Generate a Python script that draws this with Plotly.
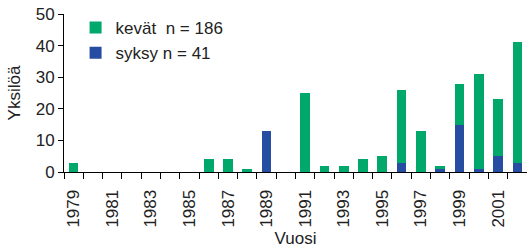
import plotly.graph_objects as go

years = list(range(1979, 2003))
kevat = [3, 0, 0, 0, 0, 0, 0, 4, 4, 1, 0, 0, 25, 2, 2, 4, 5, 23, 13, 1, 13, 30, 18, 38]
syksy = [0, 0, 0, 0, 0, 0, 0, 0, 0, 0, 13, 0, 0, 0, 0, 0, 0, 3, 0, 1, 15, 1, 5, 3]
tick_years = list(range(1979, 2002, 2))

green = "#00A86B"
blue = "#264DA1"
font = "Liberation Sans, Arial, sans-serif"

fig = go.Figure()
fig.add_trace(go.Bar(x=years, y=syksy, name="syksy n = 41", marker=dict(color=blue, line=dict(width=0))))
fig.add_trace(go.Bar(x=years, y=kevat, name="kevät\u00a0\u00a0n = 186", marker=dict(color=green, line=dict(width=0))))

fig.update_layout(
    width=527, height=252,
    margin=dict(l=64, r=0, t=14, b=80, autoexpand=False),
    barmode="stack", bargap=0.5,
    plot_bgcolor="white", paper_bgcolor="white",
    font=dict(family=font, size=17, color="#222222"),
    showlegend=True,
    legend=dict(x=0.025, y=1.025, xanchor="left", yanchor="top", traceorder="reversed",
                bgcolor="rgba(0,0,0,0)", font=dict(size=17), itemwidth=30,
                tracegroupgap=0),
)
fig.update_xaxes(
    range=[1978.5, 2002.5],
    tickvals=tick_years, ticktext=[str(y) for y in tick_years],
    tickangle=-90, ticks="outside", ticklen=10, tickcolor="rgba(0,0,0,0)",
    showgrid=False, zeroline=False,
    showline=True, linecolor="black", linewidth=1,
    tickfont=dict(size=17), ticklabeloverflow="allow",
    minor=dict(tick0=1978.5, dtick=1, ticks="outside", ticklen=6, tickcolor="black", tickwidth=1, showgrid=False),
    title=dict(text="Vuosi", font=dict(size=17), standoff=5),
)
fig.update_yaxes(
    range=[0, 50], dtick=10, ticks="outside", ticklen=5, tickcolor="black",
    showgrid=False, zeroline=False, showline=True, linecolor="black", linewidth=1,
    tickfont=dict(size=17), ticklabeloverflow="allow",
    title=dict(text="Yksilöä", font=dict(size=17), standoff=10),
)
fig.write_html("out.html", config={"displayModeBar": False},
               post_script="document.body.style.margin='0';")
